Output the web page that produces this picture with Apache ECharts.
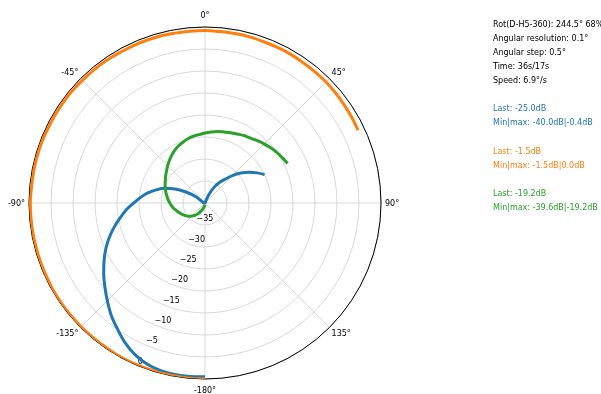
<!DOCTYPE html>
<html>
<head>
<meta charset="utf-8">
<title>Rotation scan</title>
<script src="https://cdn.jsdelivr.net/npm/echarts@6/dist/echarts.min.js"></script>
<style>
  html, body { margin: 0; padding: 0; background: #ffffff; }
  #chart { width: 601px; height: 394px; }
</style>
</head>
<body>
<div id="chart"></div>
<script>
// Turntable angle of each sample, degrees (0 = front, clockwise positive)
const angles = [
  -180, -175, -170, -165, -160, -155, -150, -145, -140, -135,
  -130, -125, -120, -115, -110, -105, -100, -95, -90, -85,
  -80, -75, -70, -65, -60, -55, -50, -45, -40, -35,
  -30, -25, -20, -15, -10, -5, 0, 5, 10, 15,
  20, 25, 30, 35, 40, 45, 50, 55, 60, 64.5
];

// Measured level per channel, dB
const levelBlue = [
  -0.5, -0.4, -0.4, -0.6, -1.1, -2.1, -3.5, -5.2, -6.8, -8.6,
  -10.3, -11.9, -13.5, -15.1, -16.8, -18.6, -20.4, -22.0, -23.8, -25.3,
  -26.8, -28.5, -30.2, -32.5, -35.0, -37.6, -40.0, -40.0, -40.0, -40.0,
  -40.0, -40.0, -40.0, -40.0, -40.0, -40.0, -40.0, -40.0, -40.0, -40.0,
  -39.5, -37.8, -35.9, -34.3, -33.0, -31.2, -29.4, -27.8, -26.3, -25.0
];
const levelOrange = [
  0.0, 0.0, -0.1, -0.1, -0.1, -0.1, -0.1, -0.2, -0.2, -0.2,
  -0.2, -0.2, -0.2, -0.3, -0.3, -0.3, -0.3, -0.3, -0.3, -0.4,
  -0.4, -0.4, -0.4, -0.5, -0.5, -0.5, -0.5, -0.6, -0.6, -0.6,
  -0.7, -0.7, -0.7, -0.7, -0.8, -0.8, -0.8, -0.9, -0.9, -0.9,
  -1.0, -1.0, -1.0, -1.1, -1.1, -1.1, -1.2, -1.3, -1.4, -1.5
];
const levelGreen = [
  -39.6, -39.5, -39.3, -39.0, -38.6, -38.1, -37.5, -36.9, -36.3, -35.8,
  -35.3, -34.9, -34.5, -34.1, -33.7, -33.3, -32.8, -32.4, -32.0, -31.6,
  -31.2, -30.8, -30.4, -30.0, -29.6, -29.1, -28.6, -28.0, -27.4, -26.8,
  -26.2, -25.7, -25.3, -24.9, -24.6, -24.4, -24.1, -23.8, -23.5, -23.3,
  -23.0, -22.7, -22.3, -22.0, -21.5, -21.0, -20.5, -20.0, -19.6, -19.2
];

// Axis ranges and tick spacing
const radiusRange = [-40, 0];
const radiusStep = 5;
const angleRange = [-180, 180];
const angleStep = 45;

// Status panel on the right
const infoLines = [
  'Rot(D-H5-360): 244.5° 68%',
  'Angular resolution: 0.1°',
  'Angular step: 0.5°',
  'Time: 36s/17s',
  'Speed: 6.9°/s'
];
const channelLines = [
  ['Last: -25.0dB', 'Min|max: -40.0dB|-0.4dB'],
  ['Last: -1.5dB', 'Min|max: -1.5dB|0.0dB'],
  ['Last: -19.2dB', 'Min|max: -39.6dB|-19.2dB']
];

const colors = ['#1f77b4', '#ff7f0e', '#2ca02c'];
const levels = [levelBlue, levelOrange, levelGreen];
const FONT = 'DejaVu Sans';
const center = [205, 203];
const outerR = 176;

// panel text rows (blank row between groups)
const panel = [];
const rowY = k => 24.8 + 14.07 * k;
infoLines.forEach((t, i) => panel.push({ text: t, color: '#000', row: i }));
channelLines.forEach((pair, c) => {
  pair.forEach((t, j) => panel.push({ text: t, color: colors[c], row: 6 + c * 3 + j }));
});

// angle labels: keep every label centred about the same distance off the rim
function angleLabel(v) {
  if (v === 180) return '';
  const t = v + '°';
  if (v === 0 || v === -180) return '{v|' + t + '}';
  if (v === 90 || v === -90) return '{h|' + t + '}';
  return t;
}

const chart = echarts.init(document.getElementById('chart'), null, { renderer: 'canvas' });

chart.setOption({
  backgroundColor: '#ffffff',
  animation: false,
  polar: [
    { center: center, radius: outerR },
    { center: center, radius: outerR }
  ],
  angleAxis: [
    {
      polarIndex: 0,
      type: 'value',
      min: angleRange[0],
      max: angleRange[1],
      interval: angleStep,
      startAngle: 270,
      clockwise: true,
      axisLine: { show: true, lineStyle: { color: '#000', width: 1 } },
      axisTick: { show: false },
      axisLabel: {
        margin: 3,
        fontSize: 8,
        fontFamily: FONT,
        color: '#000',
        formatter: angleLabel,
        rich: {
          v: { fontSize: 8, fontFamily: FONT, color: '#000', lineHeight: 17 },
          h: { fontSize: 8, fontFamily: FONT, color: '#000', padding: [2, 1, 0, 1] }
        }
      },
      splitLine: { show: true, lineStyle: { color: '#cfcfcf', width: 0.8 } }
    },
    {
      // carries the radial tick labels along the lower-left ray
      polarIndex: 1,
      type: 'value',
      min: 0,
      max: 360,
      startAngle: 247.5,
      clockwise: true,
      axisLine: { show: false },
      axisTick: { show: false },
      axisLabel: { show: false },
      splitLine: { show: false }
    }
  ],
  radiusAxis: [
    {
      polarIndex: 0,
      type: 'value',
      min: radiusRange[0],
      max: radiusRange[1],
      interval: radiusStep,
      axisLine: { show: false },
      axisTick: { show: false },
      axisLabel: { show: false },
      splitLine: { show: true, lineStyle: { color: '#cfcfcf', width: 0.8 } }
    },
    {
      polarIndex: 1,
      type: 'value',
      min: radiusRange[0],
      max: radiusRange[1],
      interval: radiusStep,
      axisLine: { show: false },
      axisTick: { show: false },
      splitLine: { show: false },
      axisLabel: {
        margin: 0,
        align: 'left',
        verticalAlign: 'bottom',
        fontSize: 8,
        fontFamily: FONT,
        color: '#000',
        formatter: v => (v === radiusRange[0] ? '' : String(v).replace('-', '\u2212'))
      }
    }
  ],
  series: levels.map((lv, i) => ({
    type: 'line',
    coordinateSystem: 'polar',
    polarIndex: 0,
    data: angles.map((a, k) => [lv[k], a]),
    showSymbol: false,
    symbol: 'none',
    smooth: 0.35,
    clip: false,
    lineStyle: { color: colors[i], width: 3 },
    z: 2 + i
  })),
  graphic: panel.map(p => ({
    type: 'text',
    x: 493,
    y: rowY(p.row),
    style: {
      text: p.text,
      fill: p.color,
      fontSize: 8,
      fontFamily: FONT,
      verticalAlign: 'middle'
    }
  }))
});
</script>
</body>
</html>
